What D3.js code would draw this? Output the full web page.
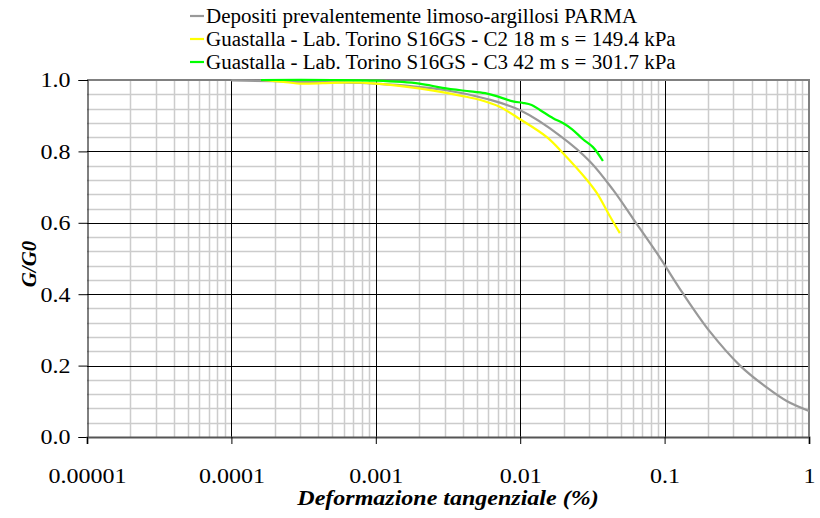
<!DOCTYPE html>
<html>
<head>
<meta charset="utf-8">
<script src="https://cdn.jsdelivr.net/npm/d3@7"></script>
<style>
  html, body { margin: 0; padding: 0; background: #ffffff; }
  svg { display: block; }
  svg text { font-family: "Liberation Serif", "Times New Roman", "DejaVu Serif", serif; fill: #000; }
</style>
</head>
<body>
<svg id="chart" width="820" height="518"></svg>
<script>
// Shear strain (%) and normalised shear modulus G/G0
const parmaStrain = [0.0001, 0.0003, 0.001, 0.003, 0.006, 0.01, 0.019, 0.0304, 0.044, 0.0604, 0.0885, 0.1, 0.134, 0.206, 0.333, 0.512, 0.705, 1.0];
const parmaG      = [0.999, 0.995, 0.99, 0.972, 0.946, 0.915, 0.843, 0.772, 0.692, 0.612, 0.515, 0.482, 0.402, 0.295, 0.2, 0.138, 0.1, 0.073];

const c2Strain = [0.00016, 0.0002, 0.0003, 0.0005, 0.00066, 0.001, 0.0017, 0.0025, 0.004, 0.0053, 0.0072, 0.01, 0.0153, 0.0198, 0.029, 0.034, 0.042, 0.049];
const c2G      = [1.0, 0.997, 0.99, 0.992, 0.993, 0.99, 0.98, 0.97, 0.955, 0.944, 0.925, 0.89, 0.84, 0.795, 0.72, 0.683, 0.617, 0.571];

const c3Strain = [0.00016, 0.0005, 0.001, 0.002, 0.0029, 0.0045, 0.0059, 0.0072, 0.0089, 0.0104, 0.012, 0.0137, 0.0169, 0.02, 0.0229, 0.0272, 0.0319, 0.0374];
const c3G      = [1.0, 1.0, 0.998, 0.99, 0.978, 0.968, 0.962, 0.952, 0.94, 0.936, 0.93, 0.916, 0.893, 0.878, 0.862, 0.834, 0.812, 0.773];

const seriesNames = [
  "Depositi prevalentemente limoso-argillosi PARMA",
  "Guastalla - Lab. Torino S16GS - C2 18 m s = 149.4 kPa",
  "Guastalla - Lab. Torino S16GS - C3 42 m s = 301.7  kPa"
];
const seriesColors = ["#999999", "#ffff00", "#00ff00"];

const xTickValues = [0.00001, 0.0001, 0.001, 0.01, 0.1, 1];
const xTickLabels = ["0.00001", "0.0001", "0.001", "0.01", "0.1", "1"];
const yTickValues = [0, 0.2, 0.4, 0.6, 0.8, 1.0];
const yTickLabels = ["0.0", "0.2", "0.4", "0.6", "0.8", "1.0"];

const xTitle = "Deformazione tangenziale (%)";
const yTitle = "G/G0";

const SERIF = '"Liberation Serif", "Times New Roman", "DejaVu Serif", serif';
const plot = { left: 87, right: 809, top: 80, bottom: 437 };

const svg = d3.select("#chart");
const x = d3.scaleLog().domain([1e-5, 1]).range([plot.left, plot.right]);
const y = d3.scaleLinear().domain([0, 1]).range([plot.bottom, plot.top]);

// widen text horizontally by a factor, keeping its anchor
function widen(sel, factor) {
  sel.each(function () {
    const w = this.getComputedTextLength();
    d3.select(this).attr("textLength", w * factor).attr("lengthAdjust", "spacingAndGlyphs");
  });
}

// minor grid: 2..9 within each decade, 0.04 steps on G/G0
const minorX = [];
for (let e = -5; e < 0; e++) for (let k = 2; k <= 9; k++) minorX.push(k * Math.pow(10, e));
const minorY = d3.range(0, 26).map(i => i * 0.04).filter(v => Math.abs(v * 5 - Math.round(v * 5)) > 1e-6);

const grid = svg.append("g");
grid.selectAll("line.mx").data(minorX).enter().append("line")
  .attr("x1", d => Math.round(x(d)) + 0.5).attr("x2", d => Math.round(x(d)) + 0.5)
  .attr("y1", plot.top).attr("y2", plot.bottom)
  .attr("stroke", "#cccccc").attr("stroke-width", 1.5);
grid.selectAll("line.my").data(minorY).enter().append("line")
  .attr("x1", plot.left).attr("x2", plot.right)
  .attr("y1", d => Math.round(y(d)) + 0.5).attr("y2", d => Math.round(y(d)) + 0.5)
  .attr("stroke", "#cccccc").attr("stroke-width", 1.5);

// major grid
grid.selectAll("line.Mx").data(xTickValues.slice(1, -1)).enter().append("line")
  .attr("x1", d => Math.round(x(d)) + 0.5).attr("x2", d => Math.round(x(d)) + 0.5)
  .attr("y1", plot.top).attr("y2", plot.bottom)
  .attr("stroke", "#000").attr("stroke-width", 1);
grid.selectAll("line.My").data(yTickValues.slice(1, -1)).enter().append("line")
  .attr("x1", plot.left).attr("x2", plot.right)
  .attr("y1", d => Math.round(y(d)) + 0.5).attr("y2", d => Math.round(y(d)) + 0.5)
  .attr("stroke", "#000").attr("stroke-width", 1);

// plot frame (top and right)
svg.append("line").attr("x1", plot.left).attr("x2", plot.right + 1).attr("y1", plot.top).attr("y2", plot.top)
  .attr("stroke", "#808080").attr("stroke-width", 2);
svg.append("line").attr("x1", plot.right).attr("x2", plot.right).attr("y1", plot.top).attr("y2", plot.bottom)
  .attr("stroke", "#808080").attr("stroke-width", 2);

// series
const line = d3.line().x(d => x(d[0])).y(d => y(d[1])).curve(d3.curveCatmullRom.alpha(0.5));
const series = [
  d3.zip(parmaStrain, parmaG),
  d3.zip(c2Strain, c2G),
  d3.zip(c3Strain, c3G)
];
svg.append("g").selectAll("path").data(series).enter().append("path")
  .attr("d", line).attr("fill", "none")
  .attr("stroke", (d, i) => seriesColors[i]).attr("stroke-width", 2.2)
  .attr("stroke-linejoin", "round");

// y axis
const yAxis = d3.axisLeft(y).tickValues(yTickValues)
  .tickFormat((d, i) => yTickLabels[i]).tickSize(9).tickPadding(8);
const gy = svg.append("g").attr("transform", `translate(${plot.left + 0.5},0)`).call(yAxis)
  .attr("font-family", SERIF).attr("font-size", 20);
gy.select(".domain").attr("stroke", "#000");
gy.selectAll(".tick line").attr("stroke", "#000");
gy.selectAll(".tick text").attr("fill", "#000").attr("dy", "0.34em").call(widen, 1.2);

// x axis
const xAxis = d3.axisBottom(x).tickValues(xTickValues)
  .tickFormat((d, i) => xTickLabels[i]).tickSize(7).tickPadding(25);
const gx = svg.append("g").attr("transform", `translate(0,${plot.bottom})`).call(xAxis)
  .attr("font-family", SERIF).attr("font-size", 20);
gx.select(".domain").attr("stroke", "#555").attr("stroke-width", 2);
gx.selectAll(".tick line").attr("stroke", "#000");
gx.selectAll(".tick text").attr("fill", "#000").call(widen, 1.2);

// axis titles
svg.append("text").attr("x", 448).attr("y", 505).attr("text-anchor", "middle")
  .attr("font-family", SERIF).attr("font-size", 20)
  .attr("font-weight", "bold").attr("font-style", "italic")
  .text(xTitle).call(widen, 1.2);
svg.append("text").attr("transform", "translate(36,264) rotate(-90)").attr("text-anchor", "middle")
  .attr("font-family", SERIF).attr("font-size", 21)
  .attr("font-weight", "bold").attr("font-style", "italic")
  .text(yTitle);

// legend
const legend = svg.append("g").attr("transform", "translate(190,16)");
const rows = legend.selectAll("g").data(seriesNames).enter().append("g")
  .attr("transform", (d, i) => `translate(0,${i * 23})`);
rows.append("line").attr("x1", 0).attr("x2", 14).attr("y1", 0).attr("y2", 0)
  .attr("stroke", (d, i) => seriesColors[i]).attr("stroke-width", 2.2);
rows.append("text").attr("x", 16).attr("y", 7)
  .attr("font-family", SERIF).attr("font-size", 20)
  .text(d => d).call(widen, 1.05);
</script>
</body>
</html>
